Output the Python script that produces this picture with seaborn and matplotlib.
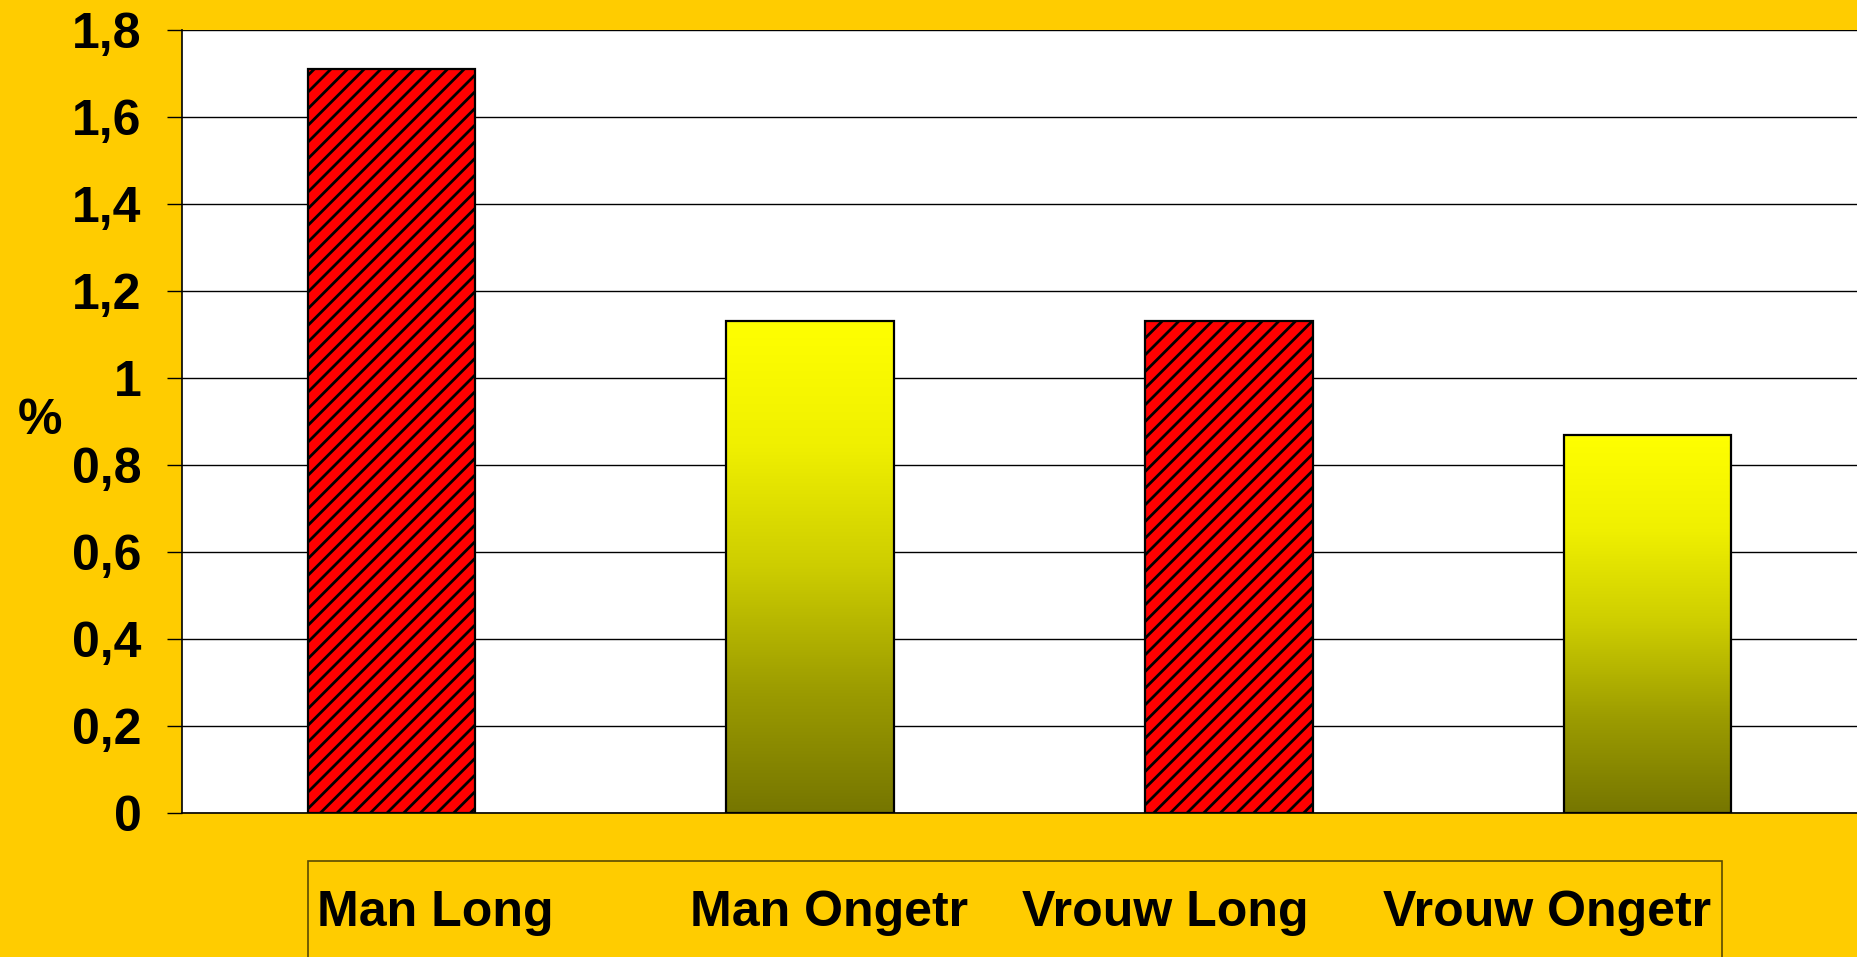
import matplotlib
matplotlib.use('Agg')
import matplotlib.pyplot as plt
from matplotlib.colors import LinearSegmentedColormap
from matplotlib.patches import Rectangle
from matplotlib.ticker import FuncFormatter, MultipleLocator
import numpy as np
import pandas as pd
import seaborn as sns

# data
categories = ['Man Long', 'Man Ongetr', 'Vrouw Long', 'Vrouw Ongetr']
percentages = [1.71, 1.13, 1.13, 0.87]
fill_styles = ['hatch', 'gradient', 'hatch', 'gradient']

BG = '#FFCC00'
sns.set_theme(style='white')
plt.rcParams['font.family'] = ['Liberation Sans', 'DejaVu Sans']
plt.rcParams['font.weight'] = 'bold'
plt.rcParams['text.color'] = 'black'
plt.rcParams['hatch.linewidth'] = 2.0

df = pd.DataFrame({'cat': categories, 'pct': percentages})

W, H = 1857, 957
fig = plt.figure(figsize=(W / 100, H / 100), dpi=100, facecolor=BG)
ax = fig.add_axes([0.098, 0.1505, 0.902, 0.8182])
ax.set_facecolor('white')

sns.barplot(data=df, x='cat', y='pct', ax=ax, width=0.40,
            color='white', edgecolor='black', linewidth=1.6,
            zorder=3)

# yellow-to-olive gradient, hatched red/black for the "Long" bars
grad = LinearSegmentedColormap.from_list(
    'yel', [(0.0, '#767600'), (0.25, '#9C9C00'), (0.5, '#CDCD00'),
            (0.75, '#F0F000'), (1.0, '#FFFF00')])
for bar, style in zip(ax.patches, fill_styles):
    if style == 'hatch':
        bar.set_facecolor('#FF0000')
        bar.set_hatch('//')
    else:
        bar.set_facecolor('none')
        x0, y0 = bar.get_x(), bar.get_y()
        w, h = bar.get_width(), bar.get_height()
        img = ax.imshow(np.linspace(0, 1, 256).reshape(-1, 1), cmap=grad,
                        origin='lower', aspect='auto',
                        extent=[x0, x0 + w, y0, y0 + h], zorder=2.5)
        img.set_clip_path(bar)

ax.set_xlim(-0.5, 3.5)
ax.set_ylim(0, 1.8)
ax.yaxis.set_major_locator(MultipleLocator(0.2))
ax.yaxis.set_major_formatter(
    FuncFormatter(lambda v, p: ('%g' % round(v, 1)).replace('.', ',')))
ax.grid(axis='y', color='black', linewidth=1.0, zorder=0)
ax.set_axisbelow(True)

for side in ['top', 'right']:
    ax.spines[side].set_visible(False)
for side in ['left', 'bottom']:
    ax.spines[side].set_color('black')
    ax.spines[side].set_linewidth(1.2)

ax.tick_params(axis='y', left=True, length=11, width=1, color='black',
               pad=18, labelsize=36, labelcolor='black')
ax.tick_params(axis='x', bottom=False, labelbottom=False)
ax.set_xlabel('')
ax.set_ylabel('%', rotation=0, fontsize=36, fontweight='bold',
              color='black', va='center', ha='center')
ax.yaxis.set_label_coords(-0.085, 0.5)

# legend-like box below the plot, running off the bottom edge
fig.patches.append(Rectangle((308 / W, -0.05), (1722 - 308) / W,
                             0.05 + 1 - 861 / H, transform=fig.transFigure,
                             facecolor=BG, edgecolor='#5A4A00',
                             linewidth=1.2))
label_x = [317, 690, 1022, 1383]
for name, lx in zip(categories, label_x):
    fig.text(lx / W, 1 - 926 / H, name, fontsize=36, fontweight='bold',
             color='black', ha='left', va='baseline')

fig.savefig('out.png', dpi=100, facecolor=BG)
